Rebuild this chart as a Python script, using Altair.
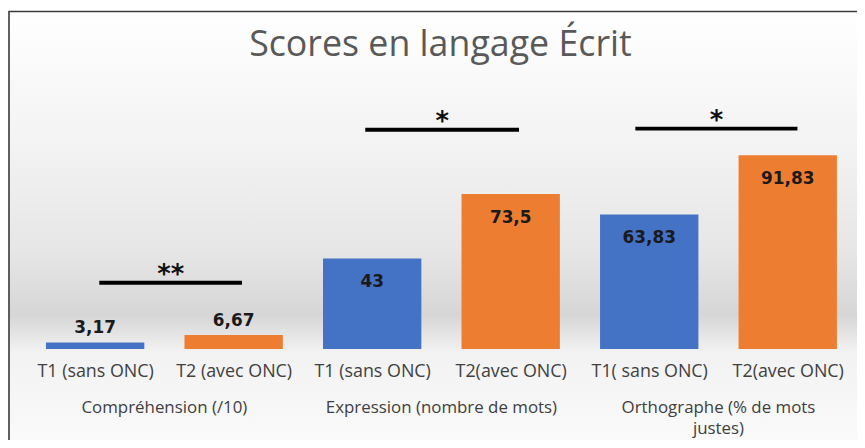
import json
import altair as alt
import pandas as pd

# ---- data ----
bar_labels = ["T1 (sans ONC)", "T2 (avec ONC)", "T1 (sans ONC)", "T2(avec ONC)", "T1( sans ONC)", "T2(avec ONC)"]
series = ["T1", "T2", "T1", "T2", "T1", "T2"]
values = [3.17, 6.67, 43, 73.5, 63.83, 91.83]
groups = ["Compréhension (/10)", "Expression (nombre de mots)", "Orthographe (% de mots\njustes)"]
group_pos = [0.5, 2.5, 4.5]
sig_marks = ["**", "*", "*"]
sig_x1 = [0.03, 1.95, 3.90]
sig_x2 = [1.06, 3.06, 5.07]
sig_y = [31.5, 104, 104.5]
title_text = "Scores en langage Écrit"

W, H = 837, 255
HALF = 0.355

bars = pd.DataFrame({
    "i": list(range(len(values))),
    "series": series,
    "value": values,
    "lbl": [str(v).replace(".", ",") for v in values],
})
grp = pd.DataFrame({"g": groups, "pos": group_pos})
sig = pd.DataFrame({"s": sig_marks, "x1": sig_x1, "x2": sig_x2, "y": sig_y})
sig["xm"] = (sig["x1"] + sig["x2"]) / 2

xscale = alt.Scale(domain=[-0.5, 5.5], nice=False, zero=False)
yscale = alt.Scale(domain=[0, 120], nice=False)

label_expr = json.dumps(bar_labels) + "[datum.value]"
xaxis = alt.Axis(values=list(range(6)), labelExpr=label_expr, title=None,
                 domain=False, ticks=False, grid=False, labelFont="Open Sans",
                 labelFontSize=18, labelColor="#404040", labelPadding=14, zindex=1,
                 labelOverlap=False)


def X(field):
    return alt.X(field, scale=xscale, axis=xaxis)


def Y(field):
    return alt.Y(field, scale=yscale, axis=None)


# background with border
bg = alt.Chart(pd.DataFrame({"a": [0]})).mark_rect(
    fill=alt.LinearGradient(
        gradient="linear", x1=0, y1=0, x2=0, y2=1,
        stops=[
            alt.GradientStop(offset=0, color="#ffffff"),
            alt.GradientStop(offset=0.30, color="#f3f3f3"),
            alt.GradientStop(offset=0.55, color="#e6e6e6"),
            alt.GradientStop(offset=0.695, color="#d6d6d6"),
            alt.GradientStop(offset=0.78, color="#f2f2f2"),
            alt.GradientStop(offset=1, color="#fbfbfb"),
        ]),
    stroke="#3a3a3a", strokeWidth=1.6,
).encode(x=alt.value(-17), x2=alt.value(W + 30), y=alt.value(-85), y2=alt.value(H + 100))

title = alt.Chart(pd.DataFrame({"t": [title_text]})).mark_text(
    font="Open Sans", fontSize=36, color="#595959", baseline="alphabetic", align="center"
).encode(text="t:N", x=alt.value(W / 2 - 1), y=alt.value(-40))

rects = alt.Chart(bars).transform_calculate(
    xa=f"datum.i - {HALF}", xb=f"datum.i + {HALF}"
).mark_rect().encode(
    x=X("xa:Q"),
    x2="xb:Q",
    y=Y("value:Q"),
    y2=alt.datum(0),
    color=alt.Color("series:N", scale=alt.Scale(domain=["T1", "T2"], range=["#4472C4", "#ED7D31"]), legend=None),
)

txt_in = alt.Chart(bars).transform_filter("datum.value >= 10").mark_text(
    font="DejaVu Sans", fontWeight="bold", fontSize=17, color="#1a1a1a", dy=24, baseline="middle"
).encode(x=X("i:Q"), y=Y("value:Q"), text="lbl:N")

txt_out = alt.Chart(bars).transform_filter("datum.value < 10").mark_text(
    font="DejaVu Sans", fontWeight="bold", fontSize=17, color="#1a1a1a", dy=-14, baseline="middle"
).encode(x=X("i:Q"), y=Y("value:Q"), text="lbl:N")

rules = alt.Chart(sig).mark_rule(color="#000000", strokeWidth=4).encode(
    x=X("x1:Q"), x2="x2:Q", y=Y("y:Q"))

stars = alt.Chart(sig).mark_text(
    font="DejaVu Sans", fontWeight="bold", fontSize=26, color="#111111", dy=-8, baseline="middle"
).encode(x=X("xm:Q"), y=Y("y:Q"), text="s:N")

grp_txt = alt.Chart(grp).mark_text(
    font="Open Sans", fontSize=17, color="#404040", baseline="top", lineBreak="\n", lineHeight=21
).encode(x=X("pos:Q"), y=alt.value(H + 51), text="g:N")

chart = alt.layer(bg, title, rects, txt_in, txt_out, rules, stars, grp_txt).properties(
    width=W, height=H,
    autosize=alt.AutoSizeParams(type="none"),
    padding={"left": 18, "top": 87, "right": 0, "bottom": 90},
).configure_view(stroke=None)

chart.save("out.html", embed_options={"renderer": "svg", "actions": False})
